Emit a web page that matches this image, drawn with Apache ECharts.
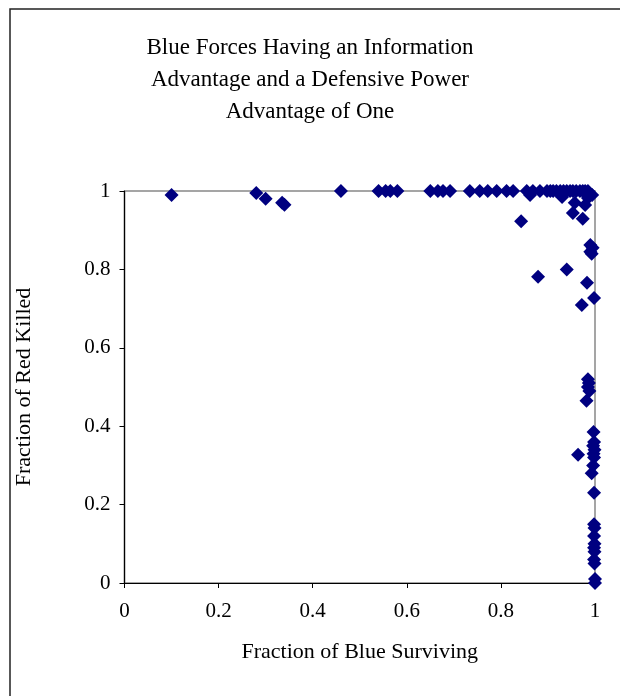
<!DOCTYPE html>
<html>
<head>
<meta charset="utf-8">
<script src="https://cdn.jsdelivr.net/npm/echarts@6/dist/echarts.min.js"></script>
<style>
  html, body { margin: 0; padding: 0; background: #fff; }
  #chart { width: 620px; height: 696px; }
</style>
</head>
<body>
<div id="chart"></div>
<script>
// fraction of blue surviving / fraction of red killed, one entry per run
const blueSurviving = [
  0.10, 0.28, 0.30, 0.335, 0.34, 0.46,
  0.54, 0.555, 0.565, 0.58,
  0.65, 0.666, 0.677, 0.692,
  0.734, 0.755, 0.772, 0.791, 0.812, 0.826,
  0.855, 0.868, 0.883, 0.898, 0.905, 0.911, 0.918, 0.926, 0.933, 0.940, 0.947, 0.953, 0.960, 0.968, 0.974, 0.979, 0.985,
  0.862, 0.93, 0.957, 0.979, 0.985, 0.994,
  0.953, 0.974, 0.843,
  0.99, 0.995, 0.99, 0.993,
  0.94, 0.879, 0.983, 0.998, 0.972,
  0.985, 0.987, 0.985, 0.988, 0.982,
  0.997, 0.998, 0.996, 0.999, 0.997, 0.998, 0.996, 0.964, 0.993, 0.998,
  0.998, 0.999, 0.998, 0.999, 0.998, 0.999, 0.998, 0.999, 1.0, 1.0
];
const redKilled = [
  0.99, 0.995, 0.98, 0.97, 0.965, 1.0,
  1.0, 1.0, 1.0, 1.0,
  1.0, 1.0, 1.0, 1.0,
  1.0, 1.0, 1.0, 1.0, 1.0, 1.0,
  1.0, 1.0, 1.0, 1.0, 1.0, 1.0, 1.0, 1.0, 1.0, 1.0, 1.0, 1.0, 1.0, 1.0, 1.0, 1.0, 1.0,
  0.99, 0.985, 0.97, 0.964, 0.982, 0.99,
  0.944, 0.929, 0.923,
  0.862, 0.855, 0.845, 0.84,
  0.80, 0.781, 0.766, 0.727, 0.709,
  0.52, 0.51, 0.50, 0.49, 0.465,
  0.385, 0.36, 0.35, 0.34, 0.33, 0.32, 0.30, 0.327, 0.28, 0.23,
  0.15, 0.14, 0.12, 0.10, 0.09, 0.08, 0.06, 0.05, 0.01, 0.0
];
const xTicks = [0, 0.2, 0.4, 0.6, 0.8, 1];
const yTicks = [0, 0.2, 0.4, 0.6, 0.8, 1];

const points = blueSurviving.map((x, i) => [x, redKilled[i]]);
const serif = "'Liberation Serif', 'DejaVu Serif', serif";

const myChart = echarts.init(document.getElementById("chart"));
const option = {
  animation: false,
  backgroundColor: "#fff",
  title: {
    text: "Blue Forces Having an Information\nAdvantage and a Defensive Power\nAdvantage of One",
    left: "center",
    top: 27,
    textStyle: {
      fontFamily: serif,
      fontWeight: "normal",
      fontSize: 23,
      lineHeight: 32,
      color: "#000"
    }
  },
  graphic: [
    {
      type: "rect",
      shape: { x: 10, y: 9, width: 700, height: 800 },
      style: { fill: "none", stroke: "#222", lineWidth: 1.5 },
      silent: true
    }
  ],
  grid: {
    left: 124.5,
    top: 191,
    right: 25,
    bottom: 113,
    show: true,
    borderColor: "#888",
    borderWidth: 1.5
  },
  xAxis: {
    type: "value",
    min: 0,
    max: 1,
    interval: 0.2,
    name: "Fraction of Blue Surviving",
    nameLocation: "middle",
    nameGap: 58,
    nameTextStyle: { fontFamily: serif, fontSize: 22, color: "#000" },
    axisLine: { onZero: false, lineStyle: { color: "#000", width: 1.2 } },
    axisTick: { show: true, inside: false, length: 5, lineStyle: { color: "#000" } },
    axisLabel: {
      fontFamily: serif,
      fontSize: 21,
      color: "#000",
      margin: 18,
      formatter: v => (xTicks.includes(+v.toFixed(1)) ? String(+v.toFixed(1)) : "")
    },
    splitLine: { show: false }
  },
  yAxis: {
    type: "value",
    min: 0,
    max: 1,
    interval: 0.2,
    name: "Fraction of Red Killed",
    nameLocation: "middle",
    nameGap: 89,
    nameTextStyle: { fontFamily: serif, fontSize: 22, color: "#000" },
    axisLine: { show: true, onZero: false, lineStyle: { color: "#000", width: 1.2 } },
    axisTick: { show: true, inside: false, length: 5, lineStyle: { color: "#000" } },
    axisLabel: {
      fontFamily: serif,
      fontSize: 21,
      color: "#000",
      margin: 14,
      formatter: v => (yTicks.includes(+v.toFixed(1)) ? String(+v.toFixed(1)) : "")
    },
    splitLine: { show: false }
  },
  series: [
    {
      type: "scatter",
      symbol: "diamond",
      symbolSize: 14,
      itemStyle: { color: "#000080", opacity: 1 },
      data: points
    }
  ]
};
myChart.setOption(option, true);
</script>
</body>
</html>
